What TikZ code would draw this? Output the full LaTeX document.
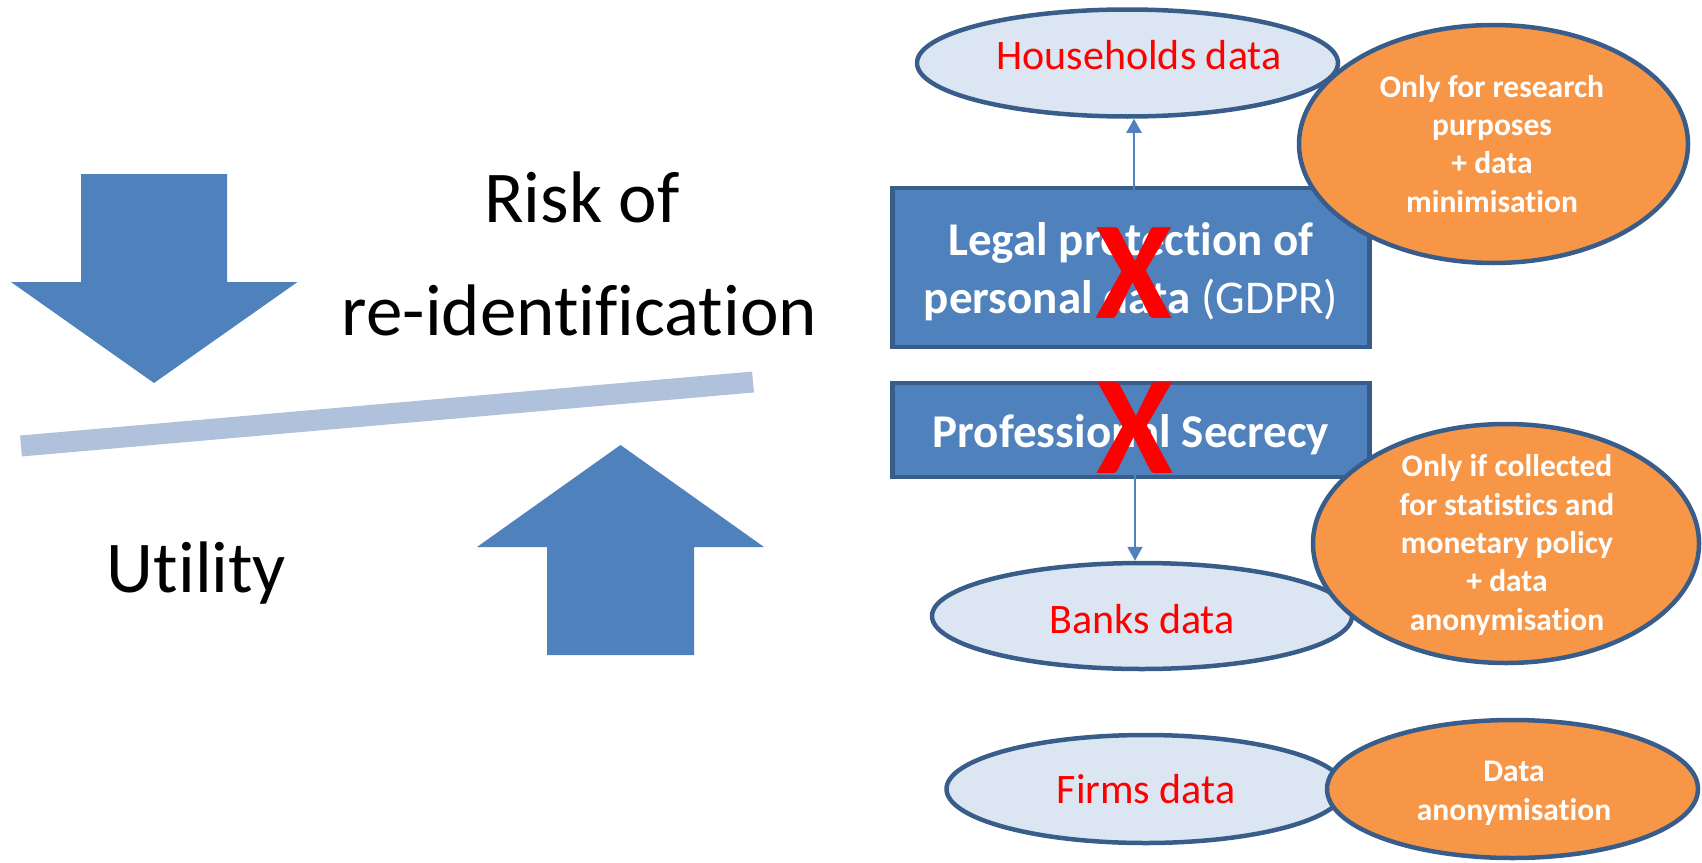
\documentclass[tikz,border=0pt]{standalone}
\usepackage{fontspec}
\setmainfont[Ligatures=CommonOff]{Carlito}
\usetikzlibrary{shapes.geometric,arrows.meta}
\definecolor{boxblue}{HTML}{4F81BD}
\definecolor{edgeblue}{HTML}{385D8A}
\definecolor{lightfill}{HTML}{DCE6F2}
\definecolor{orangefill}{HTML}{F79646}
\definecolor{barblue}{HTML}{B0C1DC}
\definecolor{redx}{HTML}{FF0000}
\tikzset{
  databox/.style={ellipse, draw=edgeblue, fill=lightfill, line width=4.5pt, inner sep=0pt},
  condbox/.style={ellipse, draw=edgeblue, fill=orangefill, line width=4.5pt, inner sep=0pt},
  lawbox/.style={rectangle, draw=edgeblue, fill=boxblue, line width=4.5pt, inner sep=0pt},
  datatext/.style={anchor=base, text=redx, font=\fontsize{42}{50}\selectfont, inner sep=0pt},
  condtext/.style={anchor=base, text=white, align=center, font=\fontsize{31.5}{38.3}\selectfont\bfseries, inner sep=0pt},
  lawtext/.style={anchor=base, text=white, align=center, font=\fontsize{47}{58}\selectfont\bfseries, inner sep=0pt},
  bigtext/.style={anchor=base, text=black, font=\fontsize{73}{88}\selectfont, inner sep=0pt},
  crossmark/.style={anchor=center, text=redx, font=\fontsize{140}{160}\selectfont\bfseries, inner sep=0pt},
  conn/.style={draw=boxblue, line width=2pt, -{Triangle[length=14pt,width=15pt]}},
}
\begin{document}
\begin{tikzpicture}[x=1pt,y=-1pt]
\useasboundingbox (0,0) rectangle (1702,862);
% left balance
\fill[boxblue] (81,174) -- (227,174) -- (227,282) -- (297.5,282) -- (154,383) -- (11,282) -- (81,282) -- cycle;
\fill[boxblue] (620.5,445) -- (764,547) -- (694,547) -- (694,655) -- (547,655) -- (547,547) -- (477,547) -- cycle;
\draw[barblue, line width=21pt] (21,446) -- (753,382);
\node[bigtext] (risk) at (582,222) {Risk of};
\node[bigtext] (reid) at (579.5,335) {re-identification};
\node[bigtext] (util) at (196.5,592) {Utility};
% right diagram
\node[lawbox, minimum width=477pt, minimum height=159pt] (legal) at (1131,267.5) {};
\node[lawbox, minimum width=477pt, minimum height=94pt] (prof) at (1131,430) {};
\node[databox, minimum width=421pt, minimum height=107pt] (house) at (1127.5,63) {};
\node[databox, minimum width=420pt, minimum height=106pt] (banks) at (1142,616) {};
\node[databox, minimum width=398pt, minimum height=108pt] (firms) at (1145.5,789) {};
\node[condbox, minimum width=389pt, minimum height=238pt] (c1) at (1493.5,144) {};
\node[condbox, minimum width=386pt, minimum height=239pt] (c2) at (1506,543.5) {};
\node[condbox, minimum width=371pt, minimum height=138pt] (c3) at (1512.5,789) {};
\draw[conn] ([xshift=3pt,yshift=-10pt]legal.north) -- ([xshift=3pt]legal.north |- house.south);
\draw[conn] ([xshift=4pt,yshift=15pt]prof.south) -- ([xshift=4pt]prof.south |- banks.north);
\node[datatext] (houset) at (1139,69) {Households data};
\node[datatext] (bankst) at (1142,633) {Banks data};
\node[datatext] (firmst) at (1146,803) {Firms data};
\node[lawtext] (legalt) at (1131,313) {Legal protection of\\personal data {\mdseries (GDPR)}};
\node[lawtext] (proft) at (1131,447) {Professional Secrecy};
\node[condtext] (c1t) at (1492,212) {Only for research\\purposes\\+ data\\minimisation};
\node[condtext] (c2t) at (1507,630) {Only if collected\\for statistics and\\monetary policy\\+ data\\anonymisation};
\node[condtext] (c3t) at (1514,820) {Data\\anonymisation};
\node[crossmark] (x1) at (1134,273) {X};
\node[crossmark] (x2) at (1135,428) {X};
\end{tikzpicture}
\end{document}
